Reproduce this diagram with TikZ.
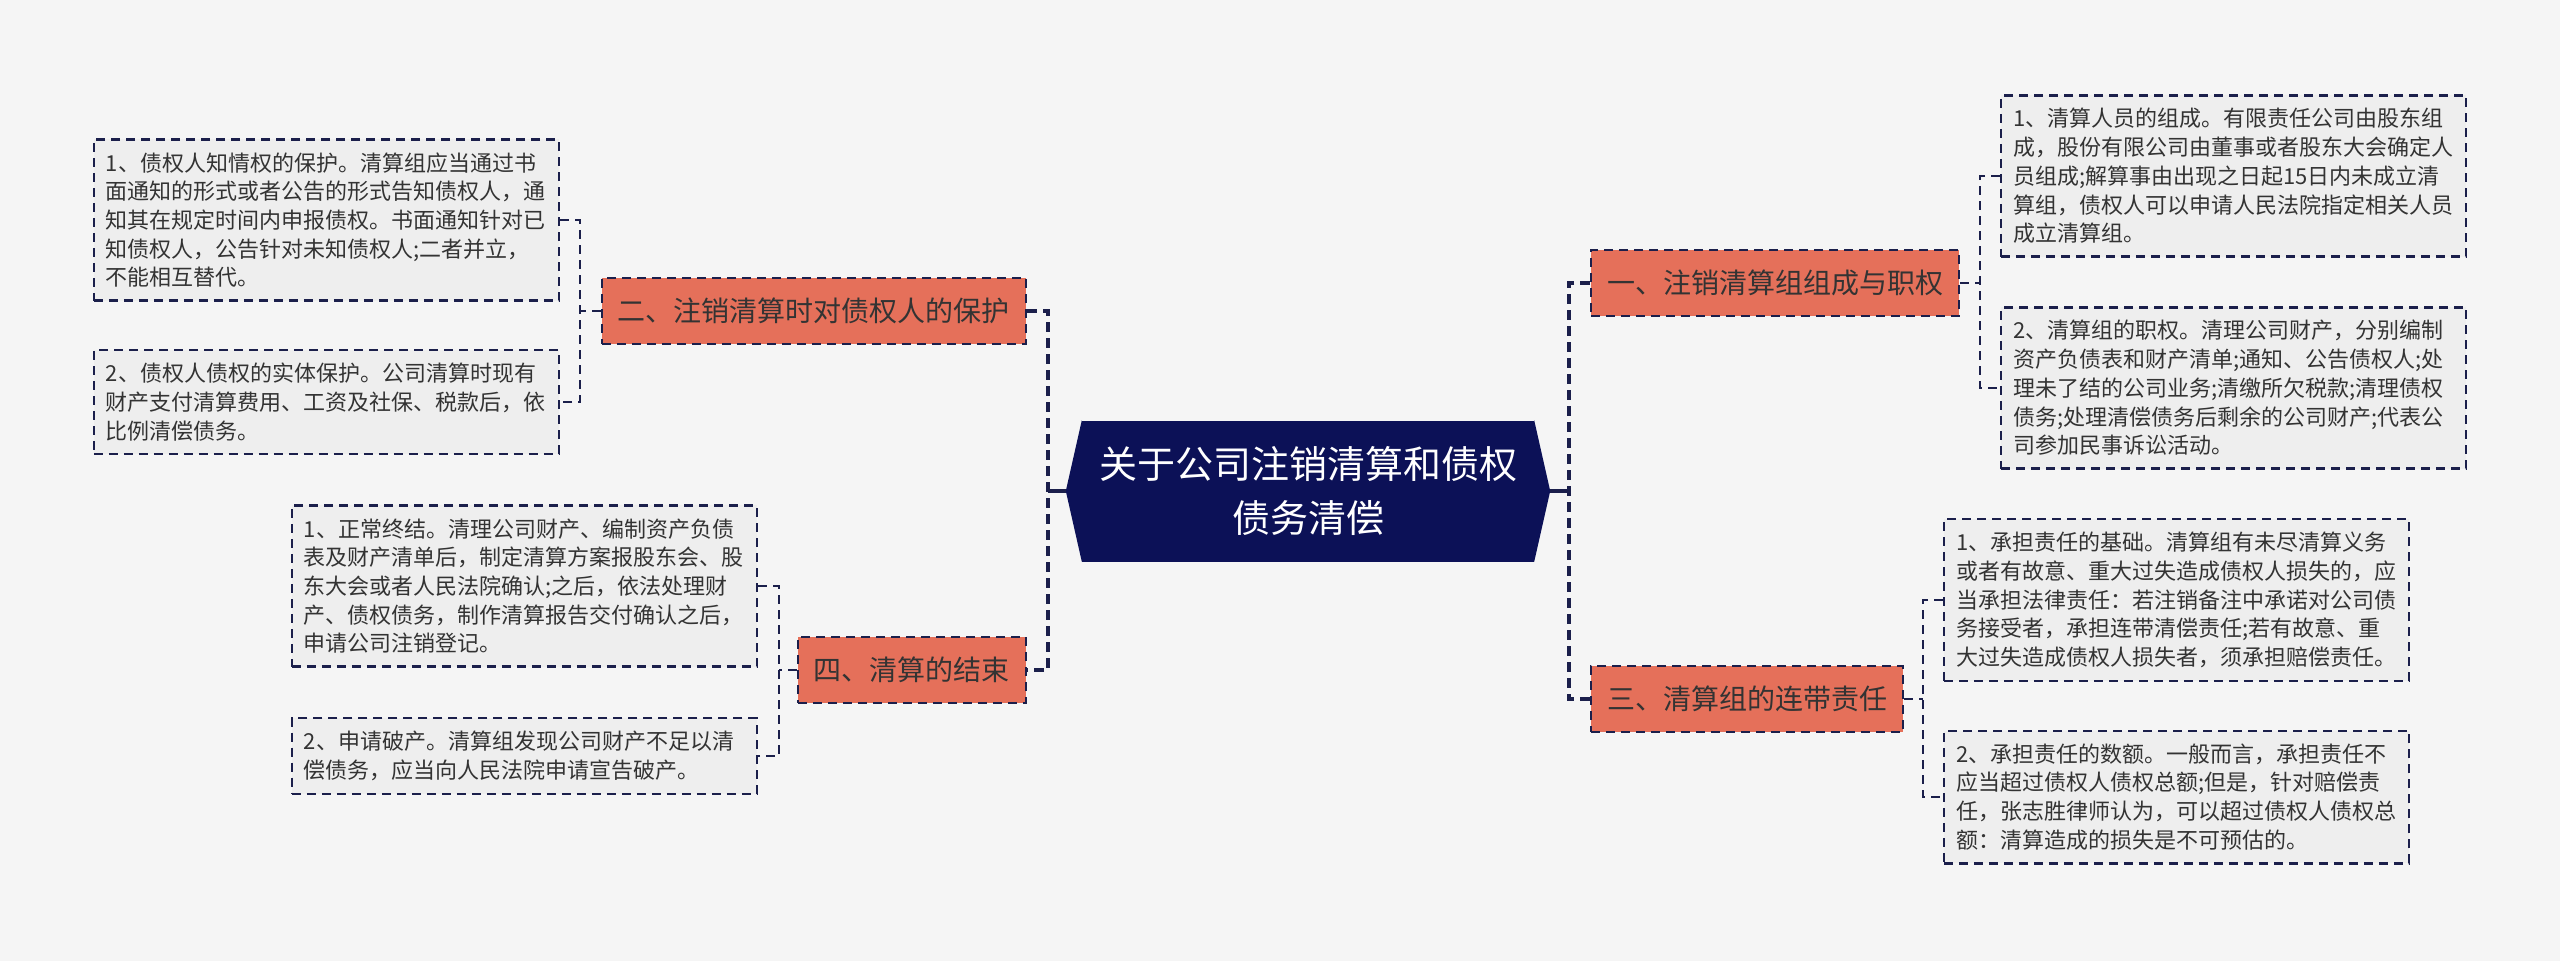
\documentclass[tikz,border=0pt]{standalone}
\usepackage{fontspec}
\newfontfamily\cjk{Noto Sans CJK SC}
\usetikzlibrary{calc}
\definecolor{bgc}{HTML}{F5F5F5}
\definecolor{navy}{HTML}{0C1157}
\definecolor{salmon}{HTML}{E5705A}
\definecolor{edge}{HTML}{1B1F4B}
\definecolor{leaffill}{HTML}{EEEEEE}
\definecolor{ink}{HTML}{333333}

\begin{document}
\begin{tikzpicture}[x=1pt,y=-1pt,
	leaf/.style={draw=edge, line width=2.4pt, dash pattern=on 9pt off 6pt, fill=leaffill, text=ink,
		font=\cjk\fontsize{22}{28.7}\selectfont, text width=441pt, align=left, inner xsep=12pt, inner ysep=13pt},
	branch/.style={draw=edge, line width=2.4pt, dash pattern=on 9pt off 6pt, fill=salmon, text=ink,
		font=\cjk\fontsize{28}{34}\selectfont, minimum height=66pt, inner xsep=16pt},
	hub/.style={fill=navy, text=white, font=\cjk\fontsize{38}{54}\selectfont, align=center,
		minimum width=452pt, minimum height=141pt, inner sep=0pt},
	trunk/.style={draw=edge, line width=3.2pt, dash pattern=on 10pt off 6pt},
	twig/.style={draw=edge, line width=2.4pt, dash pattern=on 9pt off 6pt}]
	\useasboundingbox (0,0) rectangle (2560,961);
	\fill[bgc] (0,0) rectangle (2560,961);

	\node[hub] (root) at (1308,491) {关于公司注销清算和债权\\债务清偿};
	\fill[navy] (root.north east) -- ([xshift=16pt]root.east) -- (root.south east) -- cycle;
	\fill[navy] (root.north west) -- ([xshift=-16pt]root.west) -- (root.south west) -- cycle;

	\node[branch, anchor=east] (bTwo) at (1027,311) {二、注销清算时对债权人的保护};
	\node[branch, anchor=east] (bFour) at (1027,670) {四、清算的结束};
	\node[branch, anchor=west] (bOne) at (1590,283) {一、注销清算组组成与职权};
	\node[branch, anchor=west] (bThree) at (1590,699) {三、清算组的连带责任};

	\node[leaf, anchor=east] (twoA) at (560,220) {1、债权人知情权的保护。清算组应当通过书\\面通知的形式或者公告的形式告知债权人，通\\知其在规定时间内申报债权。书面通知针对已\\知债权人，公告针对未知债权人;二者并立，\\不能相互替代。};
	\node[leaf, anchor=east] (twoB) at (560,402) {2、债权人债权的实体保护。公司清算时现有\\财产支付清算费用、工资及社保、税款后，依\\比例清偿债务。};
	\node[leaf, anchor=east] (fourA) at (758,586) {1、正常终结。清理公司财产、编制资产负债\\表及财产清单后，制定清算方案报股东会、股\\东大会或者人民法院确认;之后，依法处理财\\产、债权债务，制作清算报告交付确认之后，\\申请公司注销登记。};
	\node[leaf, anchor=east] (fourB) at (758,756) {2、申请破产。清算组发现公司财产不足以清\\偿债务，应当向人民法院申请宣告破产。};
	\node[leaf, anchor=west] (oneA) at (2000,176) {1、清算人员的组成。有限责任公司由股东组\\成，股份有限公司由董事或者股东大会确定人\\员组成;解算事由出现之日起15日内未成立清\\算组，债权人可以申请人民法院指定相关人员\\成立清算组。};
	\node[leaf, anchor=west] (oneB) at (2000,388) {2、清算组的职权。清理公司财产，分别编制\\资产负债表和财产清单;通知、公告债权人;处\\理未了结的公司业务;清缴所欠税款;清理债权\\债务;处理清偿债务后剩余的公司财产;代表公\\司参加民事诉讼活动。};
	\node[leaf, anchor=west] (threeA) at (1943,600) {1、承担责任的基础。清算组有未尽清算义务\\或者有故意、重大过失造成债权人损失的，应\\当承担法律责任：若注销备注中承诺对公司债\\务接受者，承担连带清偿责任;若有故意、重\\大过失造成债权人损失者，须承担赔偿责任。};
	\node[leaf, anchor=west] (threeB) at (1943,797) {2、承担责任的数额。一般而言，承担责任不\\应当超过债权人债权总额;但是，针对赔偿责\\任，张志胜律师认为，可以超过债权人债权总\\额：清算造成的损失是不可预估的。};

	\coordinate (lbus) at (1048,491);
	\coordinate (rbus) at (1569,491);
	\coordinate (twoBus) at (580,311);
	\coordinate (fourBus) at (779,670);
	\coordinate (oneBus) at (1980,283);
	\coordinate (threeBus) at (1923,699);

	\draw[trunk] (bTwo.east) -| (lbus) |- (bFour.east);
	\draw[edge, line width=3.2pt] ([xshift=-16pt]root.west) -- (lbus);
	\draw[trunk] (bOne.west) -| (rbus) |- (bThree.west);
	\draw[edge, line width=3.2pt] ([xshift=16pt]root.east) -- (rbus);

	\draw[twig] (twoA.east) -| (twoBus) |- (twoB.east);
	\draw[twig] (bTwo.west) -- (twoBus);
	\draw[twig] (fourA.east) -| (fourBus) |- (fourB.east);
	\draw[twig] (bFour.west) -- (fourBus);
	\draw[twig] (oneA.west) -| (oneBus) |- (oneB.west);
	\draw[twig] (bOne.east) -- (oneBus);
	\draw[twig] (threeA.west) -| (threeBus) |- (threeB.west);
	\draw[twig] (bThree.east) -- (threeBus);
\end{tikzpicture}
\end{document}
